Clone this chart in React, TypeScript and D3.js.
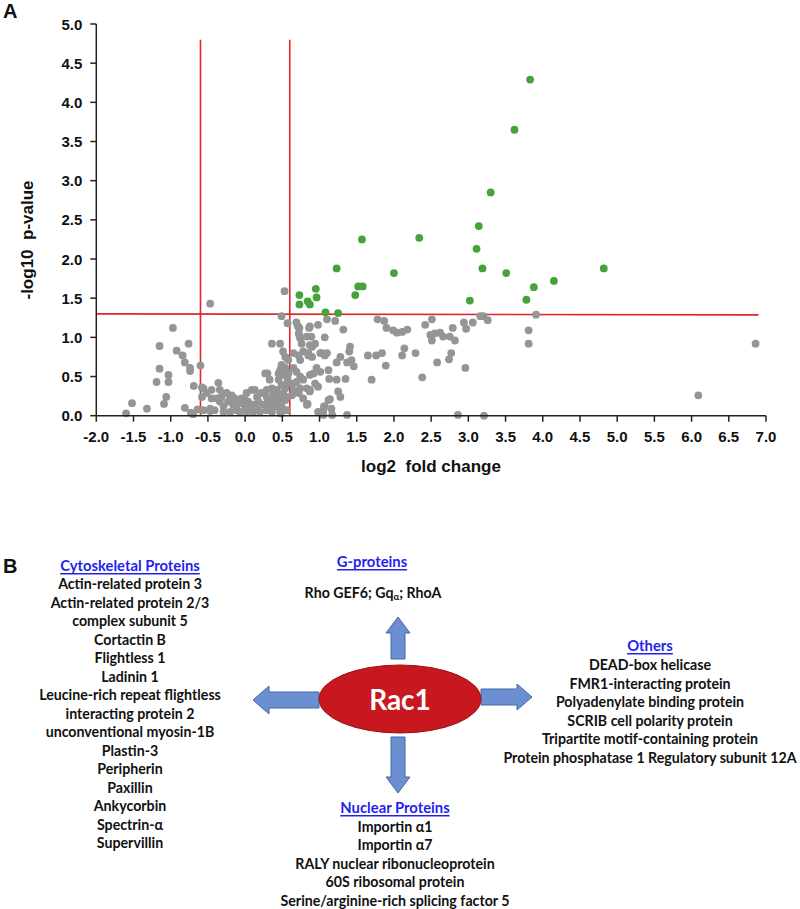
import React from "react";
import * as d3 from "d3";

// ---------- Data ----------
const xTicks = [-2.0, -1.5, -1.0, -0.5, 0.0, 0.5, 1.0, 1.5, 2.0, 2.5, 3.0, 3.5, 4.0, 4.5, 5.0, 5.5, 6.0, 6.5, 7.0];
const yTicks = [0.0, 0.5, 1.0, 1.5, 2.0, 2.5, 3.0, 3.5, 4.0, 4.5, 5.0];

const fcThresholds = [-0.6, 0.6];
const pThreshold = 1.3;

const significant: [number, number][] = [
  [3.83, 4.29], [3.62, 3.65], [3.30, 2.85], [3.14, 2.42], [2.34, 2.27], [1.57, 2.25], [3.11, 2.13],
  [1.23, 1.88], [3.19, 1.88], [2.00, 1.82], [3.51, 1.82], [3.88, 1.64], [0.95, 1.62], [1.52, 1.65],
  [1.58, 1.65], [0.73, 1.54], [0.96, 1.51], [1.48, 1.54], [0.84, 1.46], [0.87, 1.42], [0.73, 1.42],
  [3.02, 1.47], [3.78, 1.48], [1.08, 1.32], [1.25, 1.31], [4.15, 1.72], [4.82, 1.88],
];

const nonSignificant: [number, number][] = [
  [-1.60, 0.03], [-1.52, 0.16], [-1.32, 0.09], [-1.15, 0.89], [-1.15, 0.60], [-1.19, 0.43], [-1.03, 0.52],
  [-1.03, 0.43], [-1.09, 0.15], [-1.06, 0.24], [-0.97, 1.12], [-0.92, 0.83], [-0.84, 0.77], [-0.81, 0.68],
  [-0.76, 0.92], [-0.74, 0.61], [-0.74, 0.57], [-0.69, 0.38], [-0.81, 0.10], [-0.73, 0.04], [-0.70, 0.02],
  [-0.60, 0.64], [-0.58, 0.36], [-0.58, 0.24], [-0.47, 1.43], [-0.36, 0.42], [-0.47, 0.06], [-0.45, 0.33],
  [-0.64, 0.08],
  [0.53, 1.59], [0.49, 1.27], [0.57, 1.18], [0.36, 0.92], [0.47, 0.92], [0.30, 0.54],
  [0.69, 1.19], [0.71, 1.14], [0.87, 1.14], [0.98, 1.16], [1.10, 1.23], [0.72, 1.05], [0.74, 0.99],
  [0.83, 1.01], [0.87, 0.90], [0.94, 0.92], [0.76, 0.92], [0.51, 0.82], [0.54, 0.75], [0.58, 0.71],
  [0.65, 0.80], [0.72, 0.77], [0.74, 0.71], [0.78, 0.82], [0.85, 0.80], [0.90, 0.75], [1.03, 0.80],
  [1.07, 0.77], [0.96, 0.61], [1.12, 0.58], [1.01, 0.56], [0.92, 0.54], [0.49, 0.65], [0.54, 0.61],
  [0.47, 0.58], [0.51, 0.52], [0.58, 0.54], [0.65, 0.61], [0.69, 0.56], [0.74, 0.50], [0.69, 0.43],
  [0.63, 0.41], [0.78, 0.46], [0.83, 0.35], [0.87, 0.31], [0.83, 0.14], [0.98, 0.37], [1.12, 0.20],
  [1.07, 0.12], [1.23, 0.46], [0.98, 0.05], [0.33, 0.46], [0.45, 0.46], [0.49, 0.39], [0.42, 0.33],
  [0.36, 0.35], [0.29, 0.33], [0.22, 0.29], [0.09, 0.33], [0.16, 0.24], [0.02, 0.29], [-0.05, 0.22],
  [-0.14, 0.22], [-0.18, 0.26], [-0.25, 0.29], [-0.34, 0.33], [-0.52, 0.29], [-0.56, 0.35], [-0.56, 0.07],
  [-0.47, 0.09], [-0.41, 0.07], [-0.34, 0.18], [-0.29, 0.12], [-0.23, 0.18], [-0.16, 0.14], [-0.11, 0.07],
  [-0.07, 0.16], [0.00, 0.12], [0.04, 0.18], [0.11, 0.14], [0.18, 0.18], [0.25, 0.14], [0.31, 0.20],
  [0.38, 0.24], [0.45, 0.20], [0.47, 0.26], [0.51, 0.29], [0.54, 0.35], [0.56, 0.41], [0.57, 0.48],
  [0.29, 0.07], [0.36, 0.05], [0.47, 0.05], [0.20, 0.05], [0.11, 0.05], [0.02, 0.05], [-0.07, 0.05],
  [-0.20, 0.05], [-0.29, 0.05], [0.07, 0.09], [0.16, 0.09], [0.40, 0.12], [0.00, 0.20], [-0.09, 0.18],
  [-0.20, 0.22], [-0.32, 0.24], [-0.38, 0.22], [-0.45, 0.22], [0.29, 0.24], [0.33, 0.16], [0.42, 0.16],
  [0.54, 0.20], [0.49, 0.12], [0.56, 0.24], [0.63, 0.26], [0.65, 0.33], [0.72, 0.29], [0.74, 0.35],
  [0.78, 0.22], [0.56, 0.07], [1.16, 0.09], [1.05, 0.07],
  [0.73, 1.12], [0.86, 1.12], [1.21, 1.21], [1.32, 1.10], [1.07, 1.00], [0.89, 1.01], [0.73, 1.03],
  [0.90, 0.88], [0.85, 0.77], [1.01, 0.80], [1.10, 0.80], [1.28, 0.75], [1.41, 0.88], [1.40, 0.82],
  [1.23, 0.68], [1.37, 0.68], [1.43, 0.71], [1.46, 0.63], [0.87, 0.52], [1.35, 0.47], [1.13, 0.47],
  [0.94, 0.41], [0.87, 0.33], [0.84, 0.15], [1.06, 0.12], [1.05, 0.01], [1.17, 0.01], [1.37, 0.01],
  [1.25, 0.31], [1.28, 0.24], [1.14, 0.21], [1.70, 0.46], [1.65, 0.77], [1.76, 0.77], [1.84, 0.80],
  [1.89, 0.64], [1.78, 1.23], [1.87, 1.21], [1.90, 1.12], [1.99, 1.09], [2.04, 1.06], [2.11, 1.07],
  [2.18, 1.10], [2.11, 0.77], [2.14, 0.86], [2.29, 0.80], [2.38, 0.49], [2.42, 1.16], [2.51, 1.23],
  [2.49, 1.03], [2.51, 0.96], [2.55, 1.05], [2.62, 1.06], [2.66, 1.01], [2.75, 1.01], [2.79, 1.12],
  [2.82, 0.96], [2.77, 0.80], [2.74, 0.72], [2.58, 0.68], [2.96, 0.61], [2.94, 1.19], [2.97, 1.11],
  [3.06, 1.19], [3.16, 1.27], [3.20, 1.27], [3.26, 1.22], [2.86, 0.01], [3.21, 0.00], [3.81, 1.09],
  [3.81, 0.92], [3.91, 1.29], [6.86, 0.92], [6.09, 0.26],
  [0.27, 0.54], [0.45, 0.54], [0.49, 0.63], [0.13, 0.33], [0.25, 0.29], [0.38, 0.29], [0.33, 0.12],
  [0.48, 0.03],
];

const cytoskeletal = [
  "Actin-related protein 3", "Actin-related protein 2/3", "complex subunit 5", "Cortactin B",
  "Flightless 1", "Ladinin 1", "Leucine-rich repeat flightless", "interacting protein 2",
  "unconventional myosin-1B", "Plastin-3", "Peripherin", "Paxillin", "Ankycorbin", "Spectrin-α", "Supervillin",
];
const nuclear = [
  "Importin α1", "Importin α7", "RALY nuclear ribonucleoprotein", "60S ribosomal protein",
  "Serine/arginine-rich splicing factor 5",
];
const others = [
  "DEAD-box helicase", "FMR1-interacting protein", "Polyadenylate binding protein",
  "SCRIB cell polarity protein", "Tripartite motif-containing protein",
  "Protein phosphatase 1 Regulatory subunit 12A",
];

// ---------- Layout ----------
const W = 800, H = 909;
const x = d3.scaleLinear().domain([-2, 7]).range([96.3, 766]);
const y = d3.scaleLinear().domain([0, 5]).range([415.7, 24]);

const AX_FONT = "'Liberation Sans', Arial, sans-serif";
const B_FONT = "Lato, 'Open Sans', sans-serif";
const GREEN = "#46a23b";
const GRAY = "#959595";
const RED = "#e0262a";
const ARROW_FILL = "#6b8fd0";
const ARROW_STROKE = "#4468a6";
const ITEM_SIZE = 14.2;
const TITLE_SIZE = 14.8;

function arrowPath(cx: number, cy: number, dir: "up" | "down" | "left" | "right", len: number, shaft: number, head: number, headLen: number) {
  const pts: [number, number][] = [
    [0, -shaft / 2], [len - headLen, -shaft / 2], [len - headLen, -head / 2], [len, 0],
    [len - headLen, head / 2], [len - headLen, shaft / 2], [0, shaft / 2],
  ];
  const ang = { right: 0, down: Math.PI / 2, left: Math.PI, up: -Math.PI / 2 }[dir];
  const c = Math.cos(ang), s = Math.sin(ang);
  const p = pts.map(([px, py]) => [cx + px * c - py * s, cy + px * s + py * c]);
  return "M" + p.map((q) => q[0].toFixed(1) + "," + q[1].toFixed(1)).join("L") + "Z";
}

function Column({ cx, titleY, title, items, firstY, step }: { cx: number; titleY: number; title: string; items: string[]; firstY: number; step: number }) {
  return (
    <g fontFamily={B_FONT} textAnchor="middle">
      <text x={cx} y={titleY} fontSize={TITLE_SIZE} fontWeight={700} fill="#1f1fee" textDecoration="underline" dominantBaseline="central">
        {title}
      </text>
      {items.map((t, i) => (
        <text key={i} x={cx} y={firstY + i * step} fontSize={ITEM_SIZE} fontWeight={700} fill="#111" dominantBaseline="central">
          {t}
        </text>
      ))}
    </g>
  );
}

export default function App() {
  const x0 = x.range()[0];
  const y0 = y.range()[0];
  return (
    <svg width={W} height={H} style={{ position: "absolute", left: 0, top: 0, background: "#fff" }}>
      <rect width={W} height={H} fill="#fff" />
      {/* Panel A */}
      <text x={3} y={18} fontFamily={AX_FONT} fontWeight={700} fontSize={20} fill="#111">A</text>

      {fcThresholds.map((v) => (
        <line key={v} x1={x(v)} x2={x(v)} y1={y(4.8)} y2={y0} stroke={RED} strokeWidth={1.6} />
      ))}
      <line x1={x0} x2={x(6.9)} y1={y(pThreshold)} y2={y(pThreshold) + 1} stroke={RED} strokeWidth={1.6} />

      {nonSignificant.map(([a, b], i) => (
        <circle key={"g" + i} cx={x(a)} cy={y(b)} r={3.9} fill={GRAY} />
      ))}
      {significant.map(([a, b], i) => (
        <circle key={"s" + i} cx={x(a)} cy={y(b)} r={3.9} fill={GREEN} />
      ))}

      <g stroke="#222" strokeWidth={1.5}>
        <line x1={x0} x2={x0} y1={y(5)} y2={y0} />
        <line x1={x0} x2={x(7)} y1={y0} y2={y0} />
        {yTicks.map((t) => (
          <line key={"yt" + t} x1={x0 - 6} x2={x0} y1={y(t)} y2={y(t)} />
        ))}
        {xTicks.map((t) => (
          <line key={"xt" + t} x1={x(t)} x2={x(t)} y1={y0} y2={y0 + 6} />
        ))}
      </g>
      <g fontFamily={AX_FONT} fontWeight={700} fontSize={15} fill="#111">
        {yTicks.map((t) => (
          <text key={"yl" + t} x={x0 - 14} y={y(t)} textAnchor="end" dominantBaseline="central">
            {t.toFixed(1)}
          </text>
        ))}
        {xTicks.map((t) => (
          <text key={"xl" + t} x={x(t)} y={436} textAnchor="middle" dominantBaseline="central">
            {t.toFixed(1)}
          </text>
        ))}
      </g>
      <text x={431} y={466} textAnchor="middle" dominantBaseline="central" fontFamily={AX_FONT} fontWeight={700} fontSize={17} fill="#111" style={{ whiteSpace: "pre" }}>
        {"log2  fold change"}
      </text>
      <text transform="translate(27,240) rotate(-90)" textAnchor="middle" dominantBaseline="central" fontFamily={AX_FONT} fontWeight={700} fontSize={17} fill="#111" style={{ whiteSpace: "pre" }}>
        {"-log10  p-value"}
      </text>

      {/* Panel B */}
      <text x={3} y={573} fontFamily={AX_FONT} fontWeight={700} fontSize={20} fill="#111">B</text>

      <Column cx={130} titleY={565} title="Cytoskeletal Proteins" items={cytoskeletal} firstY={583.5} step={18.5} />
      <Column cx={395} titleY={807} title="Nuclear Proteins" items={nuclear} firstY={826} step={18.5} />
      <Column cx={650} titleY={645} title="Others" items={others} firstY={664.5} step={18.6} />

      <g fontFamily={B_FONT} textAnchor="middle">
        <text x={372} y={561} fontSize={TITLE_SIZE} fontWeight={700} fill="#1f1fee" textDecoration="underline" dominantBaseline="central">
          G-proteins
        </text>
        <text x={373} y={592} fontSize={ITEM_SIZE} fontWeight={700} fill="#111" dominantBaseline="central">
          Rho GEF6; Gq<tspan fontSize={9.5} dy={4}>α</tspan><tspan dy={-4}>; RhoA</tspan>
        </text>
      </g>

      <g fill={ARROW_FILL} stroke={ARROW_STROKE} strokeWidth={1}>
        <path d={arrowPath(398, 659, "up", 42, 14, 24, 16)} />
        <path d={arrowPath(398, 737, "down", 56, 14, 24, 16)} />
        <path d={arrowPath(319, 700, "left", 66, 16, 28, 16)} />
        <path d={arrowPath(481, 697, "right", 51, 16, 26, 15)} />
      </g>

      <ellipse cx={400} cy={699} rx={81} ry={34} fill="#c8171e" stroke="#9c1216" strokeWidth={1} />
      <text x={400} y={699} textAnchor="middle" dominantBaseline="central" fontFamily={B_FONT} fontWeight={700} fontSize={28} fill="#fff">
        Rac1
      </text>
    </svg>
  );
}
